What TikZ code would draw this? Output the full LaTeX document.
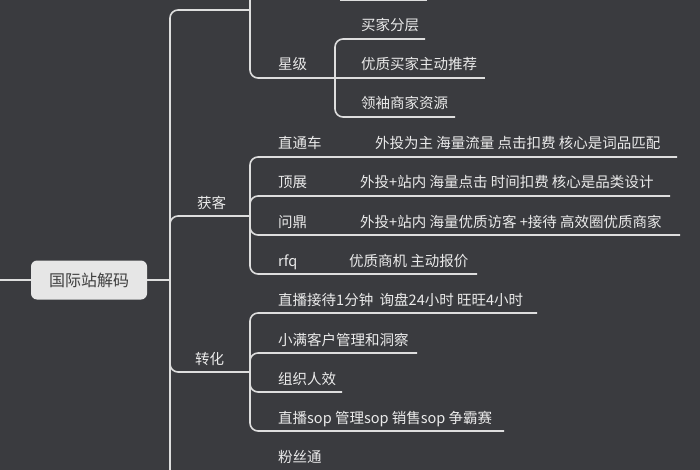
\documentclass[tikz,border=0pt]{standalone}
\usepackage{fontspec}
\setmainfont{Noto Sans CJK SC}
\definecolor{bgdark}{HTML}{3A3B3F}
\definecolor{linegray}{HTML}{DEDEDE}
\definecolor{rootfill}{HTML}{E6E6E6}
\begin{document}
\begin{tikzpicture}[
    x=1pt, y=1pt,
    link/.style={draw=linegray, line width=1.6pt, rounded corners=8pt},
    label/.style={anchor=base west, inner sep=0pt, text=white!92!black, font=\fontsize{14.5}{16}\selectfont},
    root/.style={rectangle, rounded corners=6pt, fill=rootfill, text=black!75, minimum width=116pt, minimum height=39pt, font=\fontsize{16}{18}\selectfont}
]
\fill[bgdark] (0,0) rectangle (700,-470);
\useasboundingbox (0,0) rectangle (700,-470);

% Root
\node[root] (root) at (89,-280) {国际站解码};
\coordinate (left) at (0,-280);
\coordinate (hub) at (170,-280);
\draw[link] (left) -- (root.west);
\draw[link] (root.east) -- (hub);

% Main branches
\coordinate (top) at (250,-10);
\coordinate (huoke) at (250,-216);
\coordinate (zhuanhua) at (250,-372);
\coordinate (bottom) at (250,-520);
\draw[link] (hub) |- (top);
\draw[link] (hub) |- (huoke);
\draw[link] (hub) |- (zhuanhua);
\draw[link] (hub) |- (bottom);
\node[label] (huokeT) at (197,-208) {获客};
\node[label] (zhuanhuaT) at (195,-364) {转化};

% Top branch
\coordinate (xingji) at (335,-78);
\coordinate (upper) at (250,10);
\draw[link] (top) -- (upper);
\draw[link] (top) |- (xingji);
\node[label] (xingjiT) at (278,-70) {星级};
\coordinate (cutA) at (340,0);
\coordinate (cutB) at (427,0);
\draw[link] (cutA) -- (cutB);

\coordinate (fenceng) at (425,-39);
\coordinate (tuijian) at (485,-78);
\coordinate (lingxiu) at (455,-117);
\draw[link] (xingji) |- (fenceng);
\draw[link] (xingji) -- (tuijian);
\draw[link] (xingji) |- (lingxiu);
\node[label] (fencengT) at (361,-31) {买家分层};
\node[label] (tuijianT) at (361,-70) {优质买家主动推荐};
\node[label] (lingxiuT) at (361,-109) {领袖商家资源};

% Huoke
\coordinate (ztc) at (677,-157);
\coordinate (dz) at (670,-196);
\coordinate (wd) at (680,-235);
\coordinate (rfq) at (477,-274);
\draw[link] (huoke) |- (ztc);
\draw[link] (huoke) |- (dz);
\draw[link] (huoke) |- (wd);
\draw[link] (huoke) |- (rfq);
\node[label] (ztcT) at (278,-149) {直通车};
\node[label] at (375,-149) {外投为主 海量流量 点击扣费 核心是词品匹配};
\node[label] (dzT) at (278,-188) {顶展};
\node[label] at (360,-188) {外投+站内 海量点击 时间扣费 核心是品类设计};
\node[label] (wdT) at (278,-227) {问鼎};
\node[label] at (360,-227) {外投+站内 海量优质访客 +接待 高效圈优质商家};
\node[label] (rfqT) at (278,-266) {rfq};
\node[label] at (349,-266) {优质商机 主动报价};

% Zhuanhua
\coordinate (zb) at (537,-313);
\coordinate (xm) at (417,-353);
\coordinate (zz) at (342,-392);
\coordinate (sop) at (504,-431);
\draw[link] (zhuanhua) |- (zb);
\draw[link] (zhuanhua) |- (xm);
\draw[link] (zhuanhua) |- (zz);
\draw[link] (zhuanhua) |- (sop);
\node[label] (zbT) at (278,-305) {直播接待1分钟\ \ 询盘24小时 旺旺4小时};
\node[label] (xmT) at (278,-345) {小满客户管理和洞察};
\node[label] (zzT) at (278,-384) {组织人效};
\node[label] (sopT) at (278,-423) {直播sop 管理sop 销售sop 争霸赛};

% Bottom
\coordinate (fst) at (345,-470);
\node[label] (fstT) at (278,-462) {粉丝通};
\end{tikzpicture}
\end{document}
